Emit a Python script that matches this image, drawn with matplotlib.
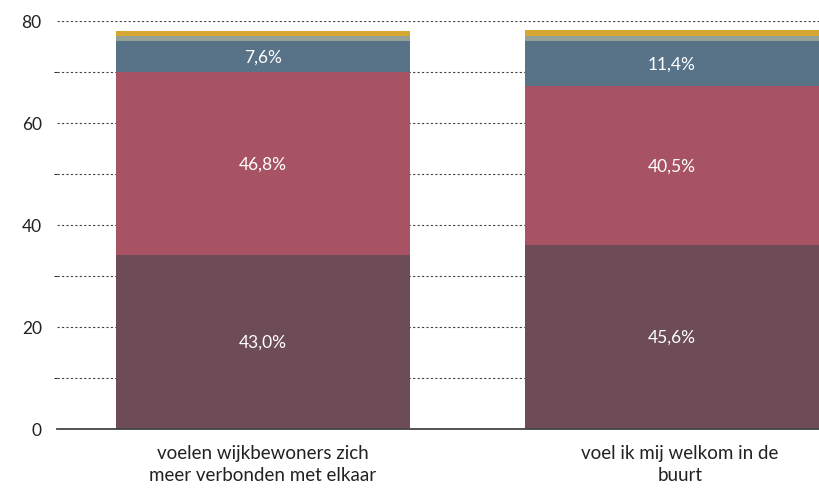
import matplotlib
matplotlib.use("Agg")
import matplotlib.pyplot as plt
import numpy as np

plt.rcParams['font.family'] = ['Lato', 'DejaVu Sans']

# data
categories = ["voelen wijkbewoners zich\nmeer verbonden met elkaar",
              "voel ik mij welkom in de\nbuurt"]
seg_bottom = [34.1, 36.1]
seg_red = [35.8, 31.0]
seg_blue = [6.1, 8.9]
seg_grey = [1.0, 1.0]
seg_gold = [1.0, 1.1]
labels_bottom = ["43,0%", "45,6%"]
labels_red = ["46,8%", "40,5%"]
labels_blue = ["7,6%", "11,4%"]

colors = ["#6d4c57", "#a85363", "#587388", "#93a197", "#d6a832"]

fig = plt.figure(figsize=(8.19, 4.89), dpi=100)
ax = fig.add_axes([0.0696, 0.1213, 0.9304, 0.8343])

x = np.arange(len(categories))
width = 0.72
segments = [seg_bottom, seg_red, seg_blue, seg_grey, seg_gold]
seg_labels = [labels_bottom, labels_red, labels_blue, None, None]
bottom = np.zeros(len(categories))
for vals, col, labs in zip(segments, colors, seg_labels):
    vals = np.array(vals)
    ax.bar(x, vals, width, bottom=bottom, color=col, zorder=3)
    if labs is not None:
        for xi, b, v, lab in zip(x, bottom, vals, labs):
            ax.text(xi, b + v / 2, lab, ha='center', va='center',
                    color='white', fontsize=12.5, zorder=4)
    bottom = bottom + vals

ax.set_xlim(-0.504, 1.36)
ax.set_ylim(0, 80)
ax.set_yticks([0, 20, 40, 60, 80])
ax.set_yticks(np.arange(10, 80, 20), minor=True)
ax.grid(axis='y', which='both', linestyle=(0, (2, 2)), color='#444444',
        linewidth=0.8, zorder=0)
ax.set_xticks([0, 1.02])
ax.set_xticklabels(categories, fontsize=13.5, color='#222222', linespacing=1.35)
ax.tick_params(axis='both', length=0, colors='#222222')
ax.tick_params(axis='y', pad=11, labelsize=12.5)
ax.tick_params(axis='x', pad=11)
for s in ['top', 'right', 'left']:
    ax.spines[s].set_visible(False)
ax.spines['bottom'].set_color('#444444')
ax.spines['bottom'].set_linewidth(1.3)
ax.spines['bottom'].set_zorder(5)

fig.savefig("out.png", dpi=100)
